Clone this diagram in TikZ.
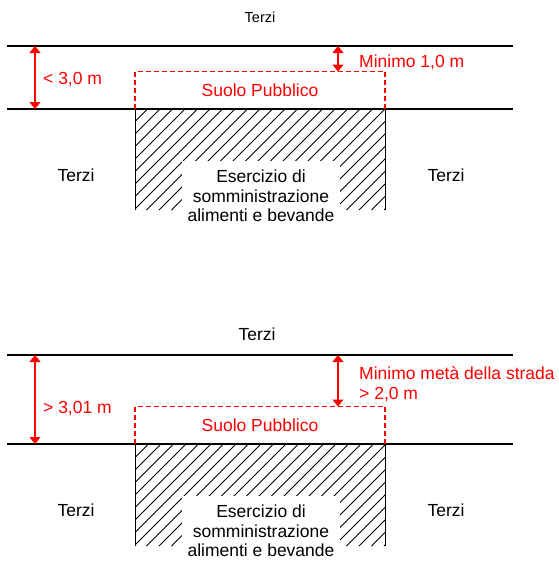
\documentclass[tikz,border=0pt]{standalone}
\usepackage{fontspec}
\setmainfont{Liberation Sans}
\usetikzlibrary{arrows.meta}
\definecolor{pured}{RGB}{255,0,0}
\tikzset{
  road/.style={line width=1.8pt, black},
  dim/.style={pured, line width=1.1pt, {Triangle[width=11pt,length=7pt]}-{Triangle[width=11pt,length=7pt]}},
  suolo/.style={draw=pured, line width=1.1pt, dash pattern=on 5pt off 3pt},
  txt/.style={font=\fontsize{17.5}{19.5}\selectfont, inner sep=0pt},
  rtxt/.style={txt, text=pured},
  small/.style={font=\fontsize{14.5}{16}\selectfont, inner sep=0pt},
  esercizio/.style={txt, align=center, fill=white, inner xsep=6pt, inner ysep=9pt, anchor=north},
  hatchline/.style={line width=0.8pt, black}
}
\begin{document}
\begin{tikzpicture}[x=1pt,y=-1pt]
\useasboundingbox (0,0) rectangle (558,562);

% ================= TOP PANEL =================
\node[small] (terziA) at (260,17) {Terzi};
\coordinate (A1l) at (7,46);  \coordinate (A1r) at (513,46);
\coordinate (A2l) at (7,109); \coordinate (A2r) at (513,109);
% hatched block
\begin{scope}
  \clip (135,109) rectangle (385,210);
  \foreach \x in {34,46.5,...,400} {
    \draw[hatchline] (\x,210) -- ++(101,-101);
  }
\end{scope}
\draw[line width=0.9pt] (135,109) -- (135,210) (385,109) -- (385,210);
\node[esercizio] (eserA) at (261,161) {Esercizio di\\somministrazione\\alimenti e bevande};
\draw[road] (A1l) -- (A1r);
\draw[road] (A2l) -- (A2r);
% suolo pubblico
\draw[suolo] (135,109) -- (135,71.5) -- (385,71.5) -- (385,109);
\node[rtxt] (suoloA) at (260,90) {Suolo Pubblico};
% dimensions
\coordinate (dA1t) at (35,46); \coordinate (dA1b) at (35,109);
\draw[dim] (dA1t) -- (dA1b);
\node[rtxt, anchor=base west] (lenA) at (43,84) {< 3,0 m};
\coordinate (dA2t) at (338,46); \coordinate (dA2b) at (338,71.5);
\draw[dim] (dA2t) -- (dA2b);
\node[rtxt, anchor=base west] (minA) at (359,67) {Minimo 1,0 m};
% side labels
\node[txt] (terziAL) at (76,175) {Terzi};
\node[txt] (terziAR) at (446,175) {Terzi};

% ================= BOTTOM PANEL =================
\node[txt] (terziB) at (257,334) {Terzi};
\coordinate (B1l) at (7,355);  \coordinate (B1r) at (513,355);
\coordinate (B2l) at (7,444); \coordinate (B2r) at (513,444);
\begin{scope}
  \clip (135,444) rectangle (385,546);
  \foreach \x in {34,46.5,...,400} {
    \draw[hatchline] (\x,546) -- ++(102,-102);
  }
\end{scope}
\draw[line width=0.9pt] (135,444) -- (135,546) (385,444) -- (385,546);
\node[esercizio] (eserB) at (261,496) {Esercizio di\\somministrazione\\alimenti e bevande};
\draw[road] (B1l) -- (B1r);
\draw[road] (B2l) -- (B2r);
\draw[suolo] (135,444) -- (135,406.5) -- (385,406.5) -- (385,444);
\node[rtxt] (suoloB) at (260,425) {Suolo Pubblico};
\coordinate (dB1t) at (35,355); \coordinate (dB1b) at (35,444);
\draw[dim] (dB1t) -- (dB1b);
\node[rtxt, anchor=base west] (lenB) at (43,413) {> 3,01 m};
\coordinate (dB2t) at (338,355); \coordinate (dB2b) at (338,406.5);
\draw[dim] (dB2t) -- (dB2b);
\node[rtxt, anchor=base west, align=left] (minB) at (359,399) {Minimo metà della strada\\> 2,0 m};
\node[txt] (terziBL) at (76,510) {Terzi};
\node[txt] (terziBR) at (446,510) {Terzi};
\end{tikzpicture}
\end{document}
